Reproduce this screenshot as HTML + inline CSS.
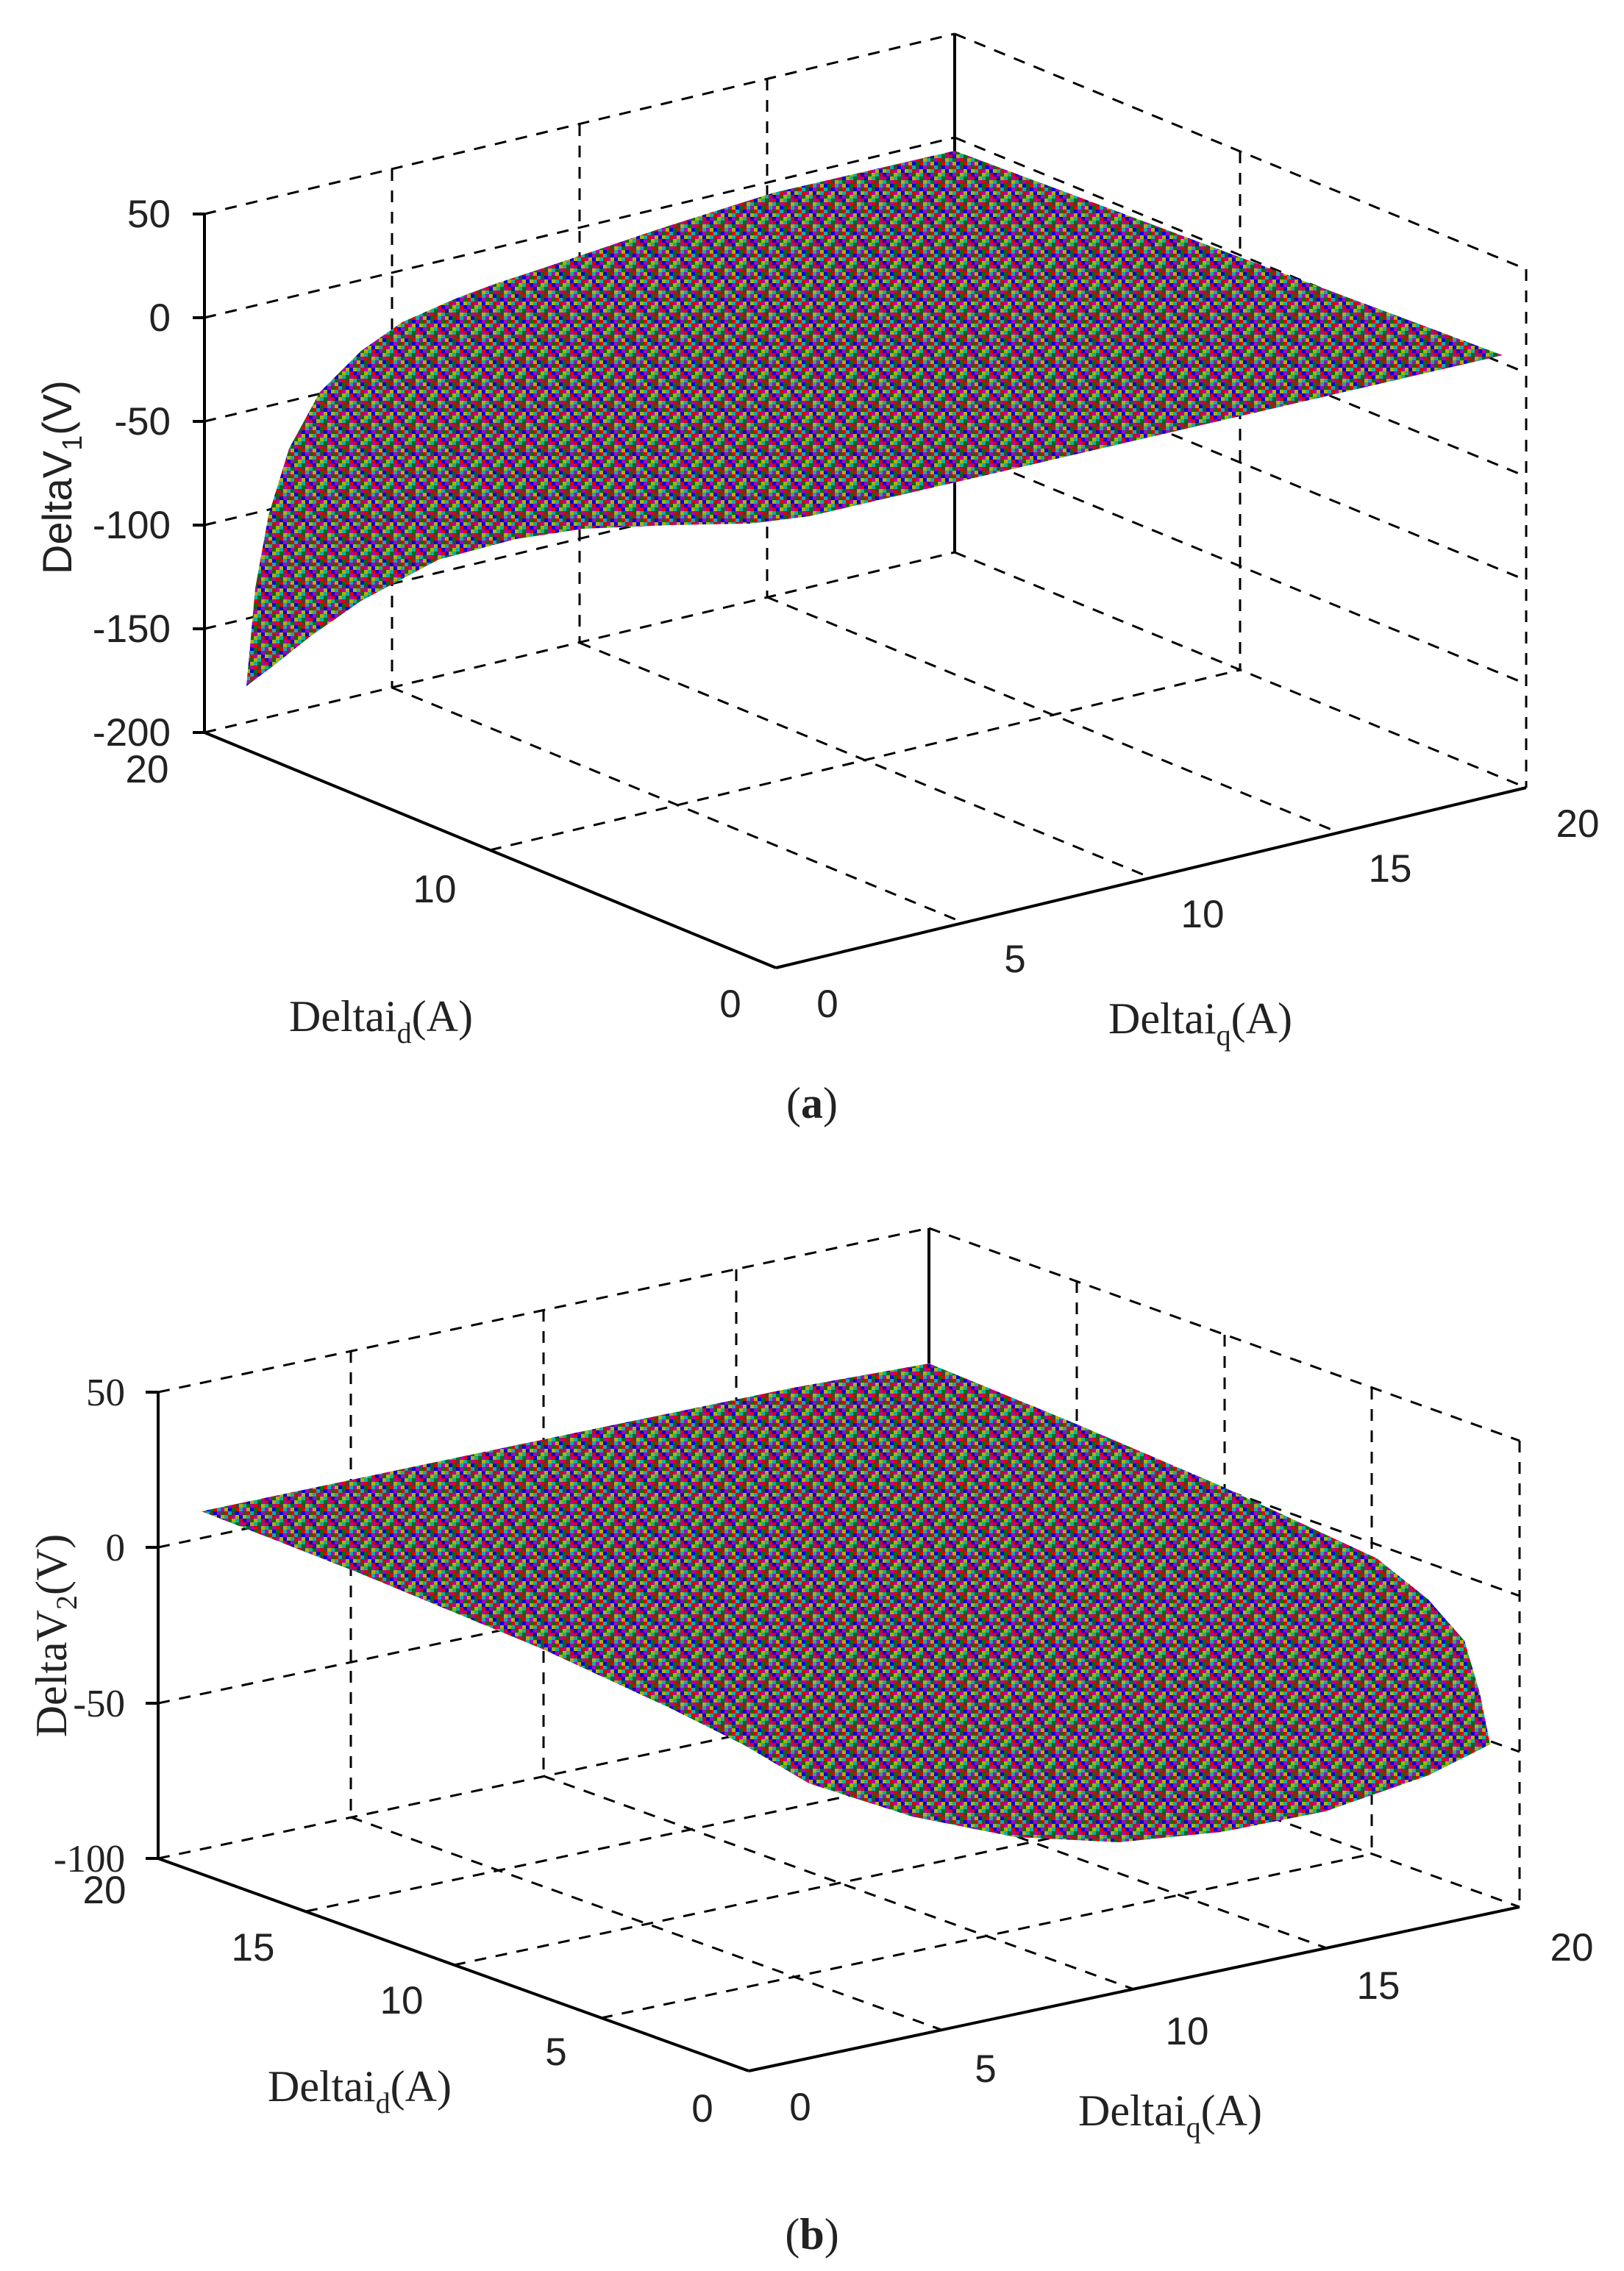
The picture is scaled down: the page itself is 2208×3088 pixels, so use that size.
<!DOCTYPE html>
<html><head><meta charset="utf-8"><style>
html,body{margin:0;padding:0;background:#fff;}
svg{display:block;}
</style></head><body>
<svg width="2208" height="3088" viewBox="0 0 2208 3088" xmlns="http://www.w3.org/2000/svg">
<defs>
<pattern id="px" patternUnits="userSpaceOnUse" width="30" height="30">
<rect x="0" y="0" width="5" height="5" fill="#e00000"/><rect x="5" y="0" width="5" height="5" fill="#0000e0"/><rect x="10" y="0" width="5" height="5" fill="#b0b000"/><rect x="15" y="0" width="5" height="5" fill="#00b0b0"/><rect x="20" y="0" width="5" height="5" fill="#007000"/><rect x="25" y="0" width="5" height="5" fill="#b000b0"/>
<rect x="0" y="5" width="5" height="5" fill="#00b0b0"/><rect x="5" y="5" width="5" height="5" fill="#007000"/><rect x="10" y="5" width="5" height="5" fill="#b000b0"/><rect x="15" y="5" width="5" height="5" fill="#e00000"/><rect x="20" y="5" width="5" height="5" fill="#404040"/><rect x="25" y="5" width="5" height="5" fill="#b0b000"/>
<rect x="0" y="10" width="5" height="5" fill="#b000b0"/><rect x="5" y="10" width="5" height="5" fill="#b0b000"/><rect x="10" y="10" width="5" height="5" fill="#0000e0"/><rect x="15" y="10" width="5" height="5" fill="#007000"/><rect x="20" y="10" width="5" height="5" fill="#e00000"/><rect x="25" y="10" width="5" height="5" fill="#00b0b0"/>
<rect x="0" y="15" width="5" height="5" fill="#007000"/><rect x="5" y="15" width="5" height="5" fill="#e00000"/><rect x="10" y="15" width="5" height="5" fill="#00b0b0"/><rect x="15" y="15" width="5" height="5" fill="#404040"/><rect x="20" y="15" width="5" height="5" fill="#0000e0"/><rect x="25" y="15" width="5" height="5" fill="#b000b0"/>
<rect x="0" y="20" width="5" height="5" fill="#b0b000"/><rect x="5" y="20" width="5" height="5" fill="#00b0b0"/><rect x="10" y="20" width="5" height="5" fill="#e00000"/><rect x="15" y="20" width="5" height="5" fill="#b000b0"/><rect x="20" y="20" width="5" height="5" fill="#b0b000"/><rect x="25" y="20" width="5" height="5" fill="#0000e0"/>
<rect x="0" y="25" width="5" height="5" fill="#0000e0"/><rect x="5" y="25" width="5" height="5" fill="#b000b0"/><rect x="10" y="25" width="5" height="5" fill="#007000"/><rect x="15" y="25" width="5" height="5" fill="#b0b000"/><rect x="20" y="25" width="5" height="5" fill="#00b0b0"/><rect x="25" y="25" width="5" height="5" fill="#e00000"/>
</pattern>
</defs>

<!-- ================= PLOT (a) ================= -->
<g stroke="#000" stroke-width="3" stroke-dasharray="16,13" fill="none">
  <line x1="278" y1="291" x2="1298" y2="46"/>
  <line x1="278" y1="432" x2="1298" y2="187"/>
  <line x1="278" y1="573" x2="1298" y2="328"/>
  <line x1="278" y1="714" x2="1298" y2="469"/>
  <line x1="278" y1="855" x2="1298" y2="610"/>
  <line x1="278" y1="996" x2="1298" y2="751"/>
  <line x1="533" y1="230" x2="533" y2="935"/>
  <line x1="788" y1="169" x2="788" y2="874"/>
  <line x1="1043" y1="107" x2="1043" y2="812"/>
  <line x1="1298" y1="46" x2="2075" y2="366"/>
  <line x1="1298" y1="187" x2="2075" y2="507"/>
  <line x1="1298" y1="328" x2="2075" y2="648"/>
  <line x1="1298" y1="469" x2="2075" y2="789"/>
  <line x1="1298" y1="610" x2="2075" y2="930"/>
  <line x1="1298" y1="751" x2="2075" y2="1071"/>
  <line x1="1686" y1="206" x2="1686" y2="911"/>
  <line x1="2075" y1="366" x2="2075" y2="1071"/>
  <line x1="533" y1="935" x2="1311" y2="1255"/>
  <line x1="788" y1="874" x2="1566" y2="1194"/>
  <line x1="1043" y1="812" x2="1820" y2="1132"/>
  <line x1="666" y1="1156" x2="1686" y2="911"/>
</g>
<g stroke="#000" stroke-width="4" fill="none">
  <line x1="1298" y1="46" x2="1298" y2="751"/>
  <line x1="278" y1="291" x2="278" y2="996"/>
  <line x1="278" y1="996" x2="1055" y2="1316"/>
  <line x1="1055" y1="1316" x2="2075" y2="1071"/>
  <line x1="262" y1="291" x2="278" y2="291"/>
  <line x1="262" y1="432" x2="278" y2="432"/>
  <line x1="262" y1="573" x2="278" y2="573"/>
  <line x1="262" y1="714" x2="278" y2="714"/>
  <line x1="262" y1="855" x2="278" y2="855"/>
  <line x1="262" y1="996" x2="278" y2="996"/>
</g>
<path fill="url(#px)" d="M335,933 L347,800 L365,701 L393,610 L435,533 L491,477 L547,438 L617,407 L673,386 L737,365 L900,310 L1052,262 L1298,205 L2043,483 L1100,702 L1020,712 L912,714 L793,719 L701,733 L596,761 L491,817 L421,866 L372,905 Z"/>

<g font-family="'Liberation Sans', Arial, sans-serif" font-size="53" fill="#222" text-anchor="end">
  <text x="232" y="309">50</text>
  <text x="232" y="450">0</text>
  <text x="232" y="591">-50</text>
  <text x="232" y="732">-100</text>
  <text x="232" y="873">-150</text>
  <text x="232" y="1014">-200</text>
</g>
<g font-family="'Liberation Sans', Arial, sans-serif" font-size="53" fill="#222" text-anchor="middle">
  <text x="200" y="1064">20</text>
  <text x="591" y="1227">10</text>
  <text x="993" y="1383">0</text>
  <text x="1125" y="1383">0</text>
  <text x="1380" y="1322">5</text>
  <text x="1635" y="1261">10</text>
  <text x="1890" y="1199">15</text>
  <text x="2145" y="1138">20</text>
</g>
<g font-family="'Liberation Serif', 'Times New Roman', serif" font-size="60" fill="#222" text-anchor="middle">
  <text x="518" y="1402">Deltai<tspan dy="16" font-size="40">d</tspan><tspan dy="-16">(A)</tspan></text>
  <text x="1632" y="1405">Deltai<tspan dy="16" font-size="40">q</tspan><tspan dy="-16">(A)</tspan></text>
  <text x="1104" y="1520">(<tspan font-weight="bold">a</tspan>)</text>
</g>
<text transform="rotate(-90 77 649)" x="77" y="669" font-family="'Liberation Sans', Arial, sans-serif" font-size="56" fill="#222" text-anchor="middle">DeltaV<tspan dy="14" font-size="38">1</tspan><tspan dy="-14">(V)</tspan></text>

<!-- ================= PLOT (b) ================= -->
<g stroke="#000" stroke-width="3" stroke-dasharray="16,13" fill="none">
  <line x1="215" y1="1893" x2="1263" y2="1670"/>
  <line x1="215" y1="2104" x2="1263" y2="1881"/>
  <line x1="215" y1="2316" x2="1263" y2="2093"/>
  <line x1="215" y1="2527" x2="1263" y2="2304"/>
  <line x1="477" y1="1837" x2="477" y2="2471"/>
  <line x1="739" y1="1781" x2="739" y2="2415"/>
  <line x1="1001" y1="1726" x2="1001" y2="2360"/>
  <line x1="1263" y1="1670" x2="2066" y2="1959"/>
  <line x1="1263" y1="1881" x2="2066" y2="2170"/>
  <line x1="1263" y1="2093" x2="2066" y2="2382"/>
  <line x1="1263" y1="2304" x2="2066" y2="2593"/>
  <line x1="1464" y1="1742" x2="1464" y2="2376"/>
  <line x1="1665" y1="1815" x2="1665" y2="2449"/>
  <line x1="1865" y1="1887" x2="1865" y2="2521"/>
  <line x1="2066" y1="1959" x2="2066" y2="2593"/>
  <line x1="477" y1="2471" x2="1280" y2="2760"/>
  <line x1="739" y1="2415" x2="1542" y2="2705"/>
  <line x1="1001" y1="2360" x2="1804" y2="2649"/>
  <line x1="416" y1="2599" x2="1464" y2="2376"/>
  <line x1="617" y1="2672" x2="1665" y2="2449"/>
  <line x1="817" y1="2744" x2="1865" y2="2521"/>
</g>
<g stroke="#000" stroke-width="4" fill="none">
  <line x1="1263" y1="1670" x2="1263" y2="2304"/>
  <line x1="215" y1="1893" x2="215" y2="2527"/>
  <line x1="215" y1="2527" x2="1018" y2="2816"/>
  <line x1="1018" y1="2816" x2="2066" y2="2593"/>
  <line x1="198" y1="1893" x2="215" y2="1893"/>
  <line x1="198" y1="2104" x2="215" y2="2104"/>
  <line x1="198" y1="2316" x2="215" y2="2316"/>
  <line x1="198" y1="2527" x2="215" y2="2527"/>
</g>
<path fill="url(#px)" d="M274,2055 L702,1965 L1073,1888 L1263,1854 L1465,1937 L1661,2021 L1872,2119 L1942,2175 L1991,2231 L2012,2302 L2026,2372 L1942,2414 L1802,2463 L1661,2491 L1521,2505 L1381,2498 L1240,2470 L1100,2425 L1010,2372 L912,2323 L737,2242 L491,2140 Z"/>

<g font-family="'Liberation Serif', 'Times New Roman', serif" font-size="53" fill="#222" text-anchor="end">
  <text x="170" y="1911">50</text>
  <text x="170" y="2122">0</text>
  <text x="170" y="2334">-50</text>
  <text x="170" y="2545">-100</text>
</g>
<g font-family="'Liberation Sans', Arial, sans-serif" font-size="53" fill="#222" text-anchor="middle">
  <text x="142" y="2588">20</text>
  <text x="344" y="2666">15</text>
  <text x="546" y="2738">10</text>
  <text x="756" y="2808">5</text>
  <text x="955" y="2885">0</text>
  <text x="1088" y="2883">0</text>
  <text x="1340" y="2831">5</text>
  <text x="1614" y="2780">10</text>
  <text x="1874" y="2718">15</text>
  <text x="2137" y="2666">20</text>
</g>
<g font-family="'Liberation Serif', 'Times New Roman', serif" font-size="60" fill="#222" text-anchor="middle">
  <text x="489" y="2857">Deltai<tspan dy="16" font-size="40">d</tspan><tspan dy="-16">(A)</tspan></text>
  <text x="1591" y="2890">Deltai<tspan dy="16" font-size="40">q</tspan><tspan dy="-16">(A)</tspan></text>
  <text x="1104" y="3058">(<tspan font-weight="bold">b</tspan>)</text>
</g>
<text transform="rotate(-90 70 2224)" x="70" y="2244" font-family="'Liberation Serif', 'Times New Roman', serif" font-size="60" fill="#222" text-anchor="middle">DeltaV<tspan dy="14" font-size="40">2</tspan><tspan dy="-14">(V)</tspan></text>
</svg>
</body></html>
